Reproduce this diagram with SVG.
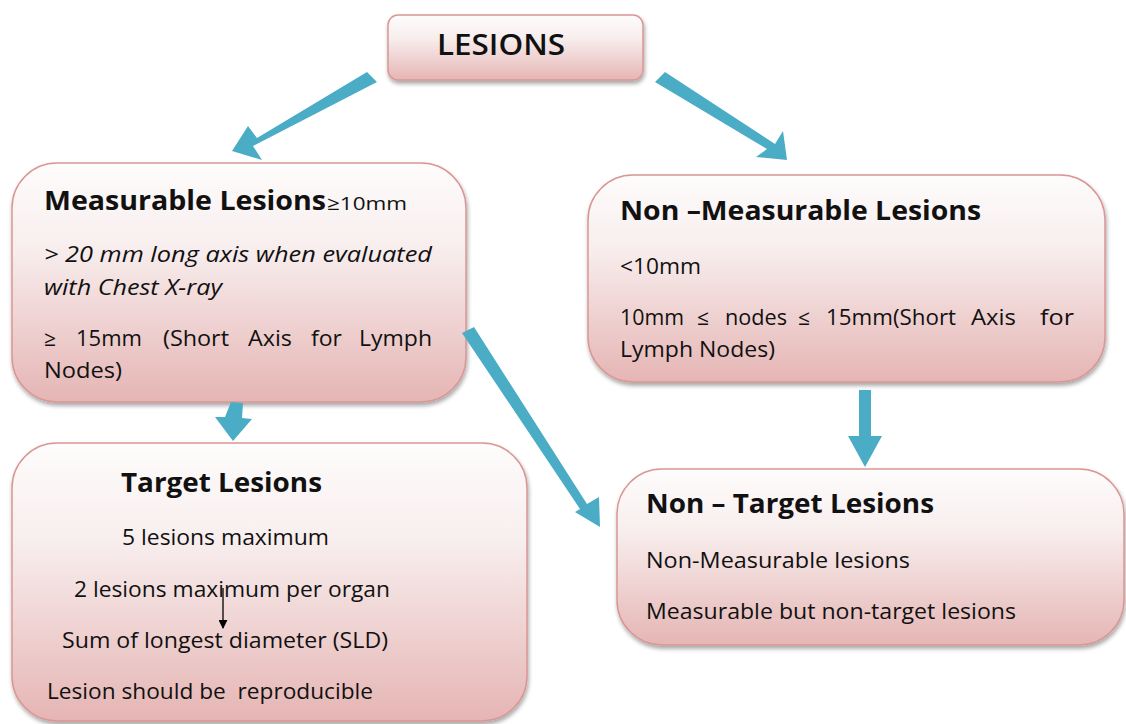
<svg xmlns="http://www.w3.org/2000/svg" width="1126" height="724" viewBox="0 0 1126 724">
<defs>
<linearGradient id="g" x1="0" y1="0" x2="0" y2="1">
<stop offset="0" stop-color="#fefcfc"/>
<stop offset="0.35" stop-color="#f8eeee"/>
<stop offset="1" stop-color="#e5b5b4"/>
</linearGradient>
<filter id="sh" x="-10%" y="-10%" width="120%" height="130%">
<feGaussianBlur in="SourceAlpha" stdDeviation="2"/>
<feOffset dx="1" dy="3" result="b"/>
<feComponentTransfer><feFuncA type="linear" slope="0.35"/></feComponentTransfer>
<feMerge><feMergeNode/><feMergeNode in="SourceGraphic"/></feMerge>
</filter>
<marker id="ah" viewBox="0 0 10 10" refX="9" refY="5" markerWidth="9" markerHeight="9" orient="auto" markerUnits="userSpaceOnUse"><path d="M0,0 L10,5 L0,10 z" fill="#000"/></marker>
</defs>
<style>
.box{fill:url(#g);stroke:#d99694;stroke-width:1.5;filter:url(#sh)}
text{font-family:"Open Sans","Noto Sans","Liberation Sans",sans-serif;fill:#111}
.h{font-weight:bold;font-size:26px}
.t{font-size:21px}
.i{font-size:21px;font-style:italic}
.arr{fill:#4bacc6}
</style>
<rect width="1126" height="724" fill="#fff"/>
<g id="lesions">
<rect class="box" x="388" y="15" width="255" height="65" rx="10"/>
<text x="437" y="55" style="font-size:28px;font-weight:600" textLength="128" lengthAdjust="spacingAndGlyphs">LESIONS</text>
</g>
<g id="measurable">
<rect class="box" x="12" y="163" width="454" height="239" rx="45"/>
<text x="44" y="210"><tspan class="h" textLength="282" lengthAdjust="spacingAndGlyphs">Measurable Lesions</tspan><tspan dx="1" style="font-size:19px" textLength="80" lengthAdjust="spacingAndGlyphs">≥10mm</tspan></text>
<text class="i" x="44" y="262" textLength="388" lengthAdjust="spacingAndGlyphs">&gt; 20 mm long axis when evaluated</text>
<text class="i" x="44" y="295" textLength="178" lengthAdjust="spacingAndGlyphs">with Chest X-ray</text>
<text class="t" y="346"><tspan x="44">≥</tspan> <tspan x="76" textLength="66" lengthAdjust="spacingAndGlyphs">15mm</tspan> <tspan x="163" textLength="66" lengthAdjust="spacingAndGlyphs">(Short</tspan> <tspan x="248" textLength="44" lengthAdjust="spacingAndGlyphs">Axis</tspan> <tspan x="311" textLength="31" lengthAdjust="spacingAndGlyphs">for</tspan> <tspan x="359" textLength="73" lengthAdjust="spacingAndGlyphs">Lymph</tspan></text>
<text class="t" x="44" y="378" textLength="78" lengthAdjust="spacingAndGlyphs">Nodes)</text>
</g>
<g id="non-measurable">
<rect class="box" x="588" y="175" width="517" height="207" rx="45"/>
<text class="h" x="620" y="220" textLength="361" lengthAdjust="spacingAndGlyphs">Non –Measurable Lesions</text>
<text class="t" x="620" y="274" textLength="81" lengthAdjust="spacingAndGlyphs">&lt;10mm</text>
<text class="t" y="325"><tspan x="620" textLength="64" lengthAdjust="spacingAndGlyphs">10mm</tspan> <tspan x="697">≤</tspan> <tspan x="725" textLength="62" lengthAdjust="spacingAndGlyphs">nodes</tspan> <tspan x="798">≤</tspan> <tspan x="826" textLength="130" lengthAdjust="spacingAndGlyphs">15mm(Short</tspan> <tspan x="971" textLength="45" lengthAdjust="spacingAndGlyphs">Axis</tspan> <tspan x="1040" textLength="34" lengthAdjust="spacingAndGlyphs">for</tspan></text>
<text class="t" x="620" y="357" textLength="155" lengthAdjust="spacingAndGlyphs">Lymph Nodes)</text>
</g>
<g id="target">
<rect class="box" x="12" y="443" width="515" height="278" rx="45"/>
<text class="h" x="121" y="492" textLength="201" lengthAdjust="spacingAndGlyphs">Target Lesions</text>
<text class="t" x="122" y="545" textLength="207" lengthAdjust="spacingAndGlyphs">5 lesions maximum</text>
<text class="t" x="74" y="597" textLength="316" lengthAdjust="spacingAndGlyphs">2 lesions maximum per organ</text>
<text class="t" x="62" y="648" textLength="326" lengthAdjust="spacingAndGlyphs">Sum of longest diameter (SLD)</text>
<text class="t" x="47" y="699" textLength="326" lengthAdjust="spacingAndGlyphs" xml:space="preserve">Lesion should be  reproducible</text>
</g>
<g id="non-target">
<rect class="box" x="617" y="469" width="507" height="176" rx="45"/>
<text class="h" x="646" y="513" textLength="288" lengthAdjust="spacingAndGlyphs">Non – Target Lesions</text>
<text class="t" x="646" y="568" textLength="264" lengthAdjust="spacingAndGlyphs">Non-Measurable lesions</text>
<text class="t" x="646" y="619" textLength="370" lengthAdjust="spacingAndGlyphs">Measurable but non-target lesions</text>
</g>
<g id="connectors">
<polygon class="arr" points="367,72 377,82 253,146 262,160 232,151 248,126 257,138"/>
<polygon class="arr" points="655,82 665,72 775,144 783,131 787,160 756,157 767,149"/>
<polygon class="arr" points="231,402 243,403 242,418 252,419 233,441 215,417 225,417"/>
<polygon class="arr" points="462,333 474,327 587,504 599,497 600,527 575,512 580,509"/>
<polygon class="arr" points="859,390 871,390 871,436 882,436 865,467 848,436 859,436"/>
<line x1="223" y1="588" x2="223" y2="628" stroke="#000" stroke-width="1.3" marker-end="url(#ah)"/>
</g>
</svg>
